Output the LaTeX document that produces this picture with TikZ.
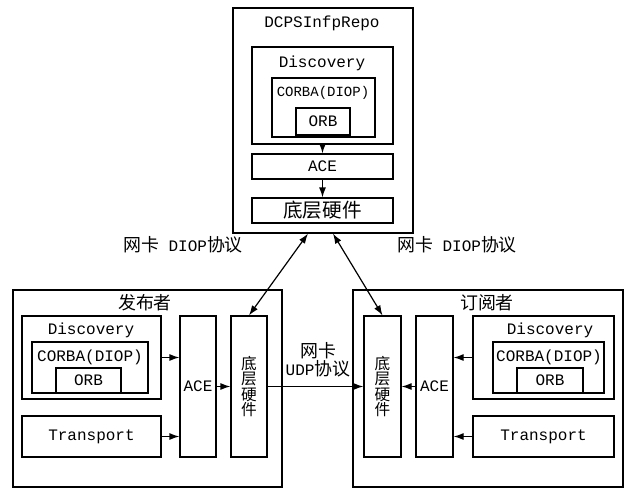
\documentclass[tikz,border=0pt]{standalone}
\usepackage{fontspec}
\setmainfont{Liberation Mono}
\newfontfamily\cjk[Scale=1.12]{Noto Sans CJK SC}
\newcommand{\cn}[1]{{\cjk #1}}
\usetikzlibrary{arrows.meta}
\tikzset{
  box/.style={draw, line width=1.2pt, inner sep=0pt},
  txt/.style={inner sep=0pt},
  tip/.tip={Latex[length=10pt,width=7pt]},
  conn/.style={line width=1.2pt, -tip},
  both/.style={line width=1.2pt, tip-tip},
  vtext/.style={align=center, font=\cjk\fontsize{14}{15.5}\selectfont},
}
\begin{document}
\begin{tikzpicture}[x=1pt, y=-1pt, font=\fontsize{16}{18}\selectfont]
\useasboundingbox (0,0) rectangle (628,489);

\node [box, minimum width=180pt, minimum height=225pt] (repo) at (323,120.5) {};
\node [txt] (repotitle) at (322,23) {DCPSInfpRepo};
\node [box, minimum width=141pt, minimum height=97pt] (repodisc) at (322.5,95.5) {};
\node [txt] (repodisctxt) at (322,63) {Discovery};
\node [box, minimum width=103pt, minimum height=59pt] (repocorba) at (323.5,107.5) {};
\node [txt, font=\fontsize{14}{16}\selectfont] (repocorbatxt) at (323,93) {CORBA(DIOP)};
\node [box, minimum width=54pt, minimum height=27pt] (repoorb) at (323,121.5) {ORB};
\node [box, minimum width=141pt, minimum height=25pt] (repoace) at (322.5,166.5) {ACE};
\node [box, minimum width=141pt, minimum height=25pt, font=\cjk\fontsize{17.5}{18}\selectfont] (repohw) at (322.5,210.5) {底层硬件};
\draw [conn] (repodisc) -- (repoace);
\draw [conn] (repoace) -- (repohw);

\node [box, minimum width=269pt, minimum height=197pt] (pub) at (147.5,388.5) {};
\node [txt] (pubtitle) at (145,303) {\cn{发布者}};
\node [box, minimum width=139pt, minimum height=83pt] (pubdisc) at (91.5,357.5) {};
\node [txt] (pubdisctxt) at (91,330) {Discovery};
\node [box, minimum width=116pt, minimum height=51pt] (pubcorba) at (90,367.5) {};
\node [txt] (pubcorbatxt) at (90,357) {CORBA(DIOP)};
\node [box, minimum width=65pt, minimum height=25pt] (puborb) at (88.5,380.5) {ORB};
\node [box, minimum width=139pt, minimum height=41pt] (pubtrans) at (91.5,436.5) {Transport};
\node [box, minimum width=36pt, minimum height=141pt] (pubace) at (198,386.5) {ACE};
\node [box, vtext, minimum width=36pt, minimum height=141pt] (pubhw) at (249,386.5) {底\\层\\硬\\件};
\draw [conn] (pubdisc.east) -- (pubdisc.east -| pubace.west);
\draw [conn] (pubtrans.east) -- (pubtrans.east -| pubace.west);
\draw [conn] (pubace) -- (pubhw);

\node [box, minimum width=270pt, minimum height=197pt] (sub) at (488,388.5) {};
\node [txt] (subtitle) at (487,303) {\cn{订阅者}};
\node [box, vtext, minimum width=37pt, minimum height=141pt] (subhw) at (382.5,386.5) {底\\层\\硬\\件};
\node [box, minimum width=37pt, minimum height=141pt] (subace) at (434.5,386.5) {ACE};
\node [box, minimum width=141pt, minimum height=83pt] (subdisc) at (543.5,357.5) {};
\node [txt] (subdisctxt) at (550,330) {Discovery};
\node [box, minimum width=111pt, minimum height=51pt] (subcorba) at (548.5,367.5) {};
\node [txt] (subcorbatxt) at (549,357) {CORBA(DIOP)};
\node [box, minimum width=66pt, minimum height=25pt] (suborb) at (550,380.5) {ORB};
\node [box, minimum width=141pt, minimum height=41pt] (subtrans) at (543.5,436.5) {Transport};
\draw [conn] (subdisc.west) -- (subdisc.west -| subace.east);
\draw [conn] (subtrans.west) -- (subtrans.west -| subace.east);
\draw [conn] (subace) -- (subhw);

\draw [conn] (pubhw) -- (subhw);
\node [txt, align=center] (udp) at (318,360) {\cn{网卡}\\UDP\cn{协议}};
\draw [both] ([xshift=-15pt]repo.south) -- (pubhw.north);
\draw [both] ([xshift=10pt]repo.south) -- (subhw.north);
\node [txt] (diopl) at (183,245) {\cn{网卡} DIOP\cn{协议}};
\node [txt] (diopr) at (457,245) {\cn{网卡} DIOP\cn{协议}};
\end{tikzpicture}
\end{document}
